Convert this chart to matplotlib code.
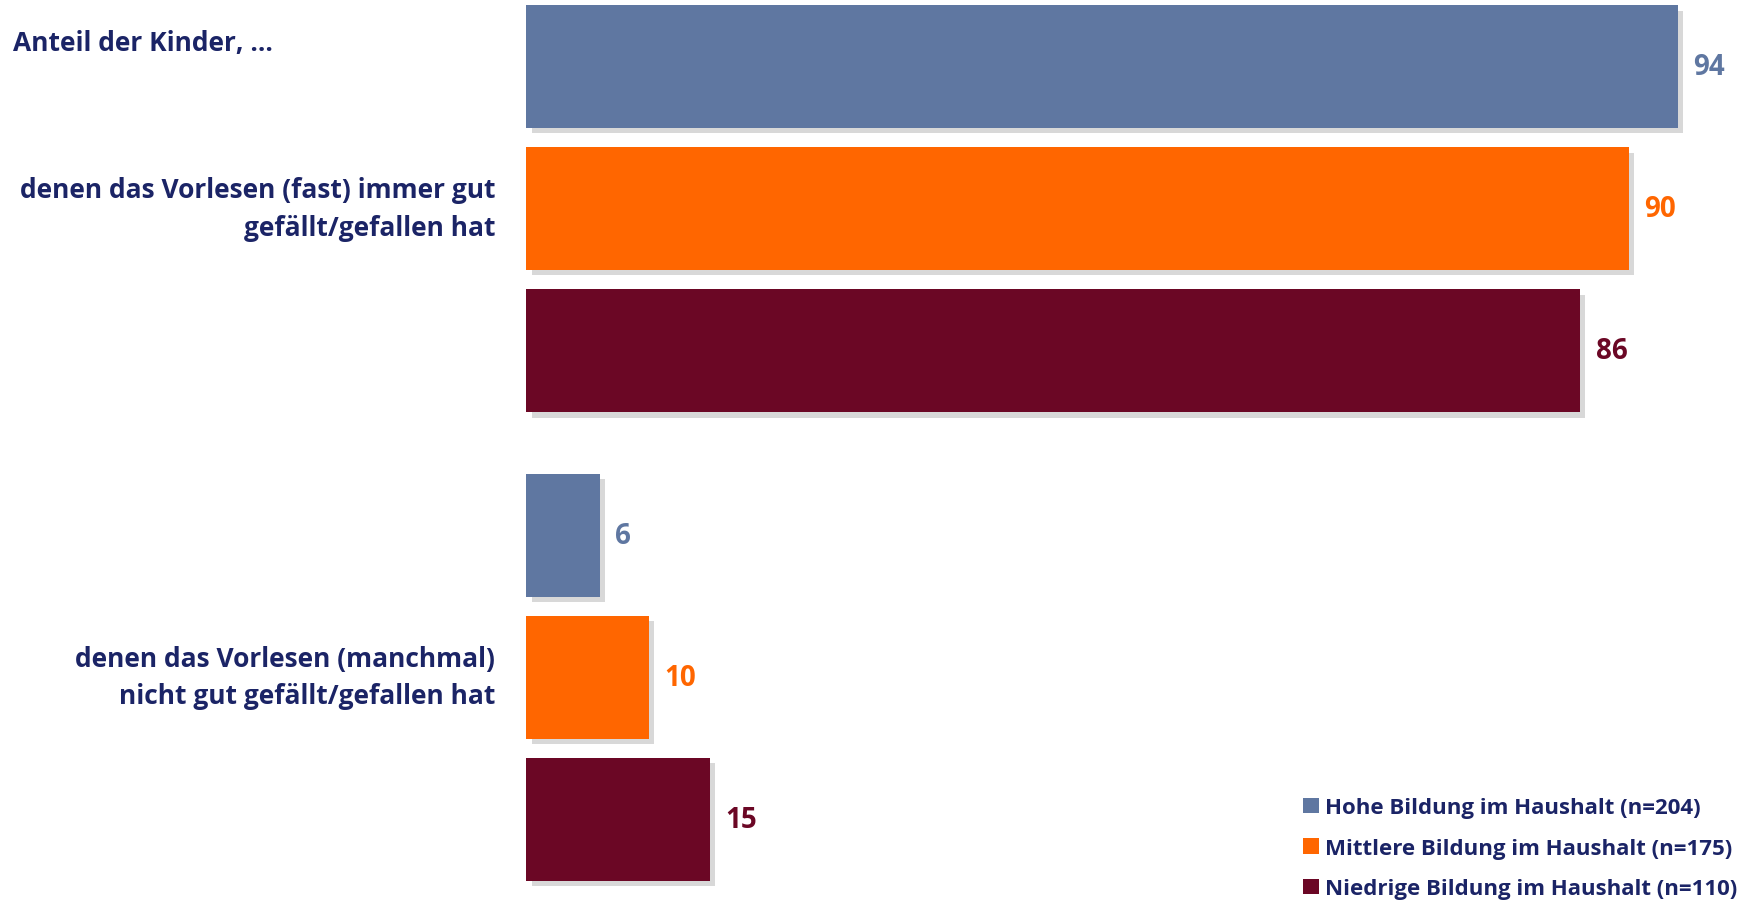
import matplotlib
matplotlib.use('Agg')
import matplotlib.pyplot as plt
import matplotlib.patheffects as pe
import matplotlib.transforms as mtransforms
from matplotlib.patches import Patch

# Daten
gruppen = ['Hohe Bildung im Haushalt (n=204)',
           'Mittlere Bildung im Haushalt (n=175)',
           'Niedrige Bildung im Haushalt (n=110)']
kategorien = ['denen das Vorlesen (fast) immer gut\ngefällt/gefallen hat',
              'denen das Vorlesen (manchmal)\nnicht gut gefällt/gefallen hat']
gefaellt = [94, 90, 86]
gefaellt_nicht = [6, 10, 15]
werte = [gefaellt, gefaellt_nicht]

farben = ['#5F77A1', '#FF6600', '#6B0725']
textfarbe = '#1B2466'

plt.rcParams['font.family'] = ['Open Sans', 'DejaVu Sans']
plt.rcParams['font.weight'] = 'bold'

fig = plt.figure(figsize=(17.56, 9.04), dpi=100)
ax = fig.add_axes([526 / 1756, 0, 1 - 526 / 1756, 1])

schritt = 1.0
gruppen_abstand = 3.30
hoehe = 0.866
schatten = [pe.SimplePatchShadow(offset=(4, -4), shadow_rgbFace='#808080', alpha=0.3), pe.Normal()]

for k, reihe in enumerate(werte):
    for i, v in enumerate(reihe):
        y = k * gruppen_abstand + i * schritt
        b = ax.barh(y, v, height=hoehe, color=farben[i], edgecolor='none')
        b[0].set_path_effects(schatten)
        ax.text(v + 1.3, y, str(v), va='center', ha='left', color=farben[i],
                fontsize=20, fontweight='bold')
    mitte = k * gruppen_abstand + schritt
    ax.text(-2.5, mitte, kategorien[k], ha='right', va='center', color=textfarbe,
            fontsize=19, fontweight='bold', linespacing=1.5, clip_on=False)

trans = mtransforms.blended_transform_factory(fig.transFigure, ax.transData)
ax.text(13 / 1756, -0.17, 'Anteil der Kinder, …', transform=trans, ha='left', va='center',
        color=textfarbe, fontsize=19, fontweight='bold')

ax.set_xlim(0, 100.4)
ax.set_ylim(5.891, -0.475)
ax.axis('off')

handles = [Patch(facecolor=c, edgecolor='none') for c in farben]
leg = fig.legend(handles, gruppen, loc='upper left', bbox_to_anchor=(0.742, 0.117),
                 frameon=False, fontsize=16, handlelength=0.7, handleheight=0.7,
                 handletextpad=0.3, labelspacing=0.88, borderpad=0, borderaxespad=0)
for t in leg.get_texts():
    t.set_color(textfarbe)
    t.set_fontweight('bold')

fig.savefig('out.png', dpi=100, facecolor='white')
